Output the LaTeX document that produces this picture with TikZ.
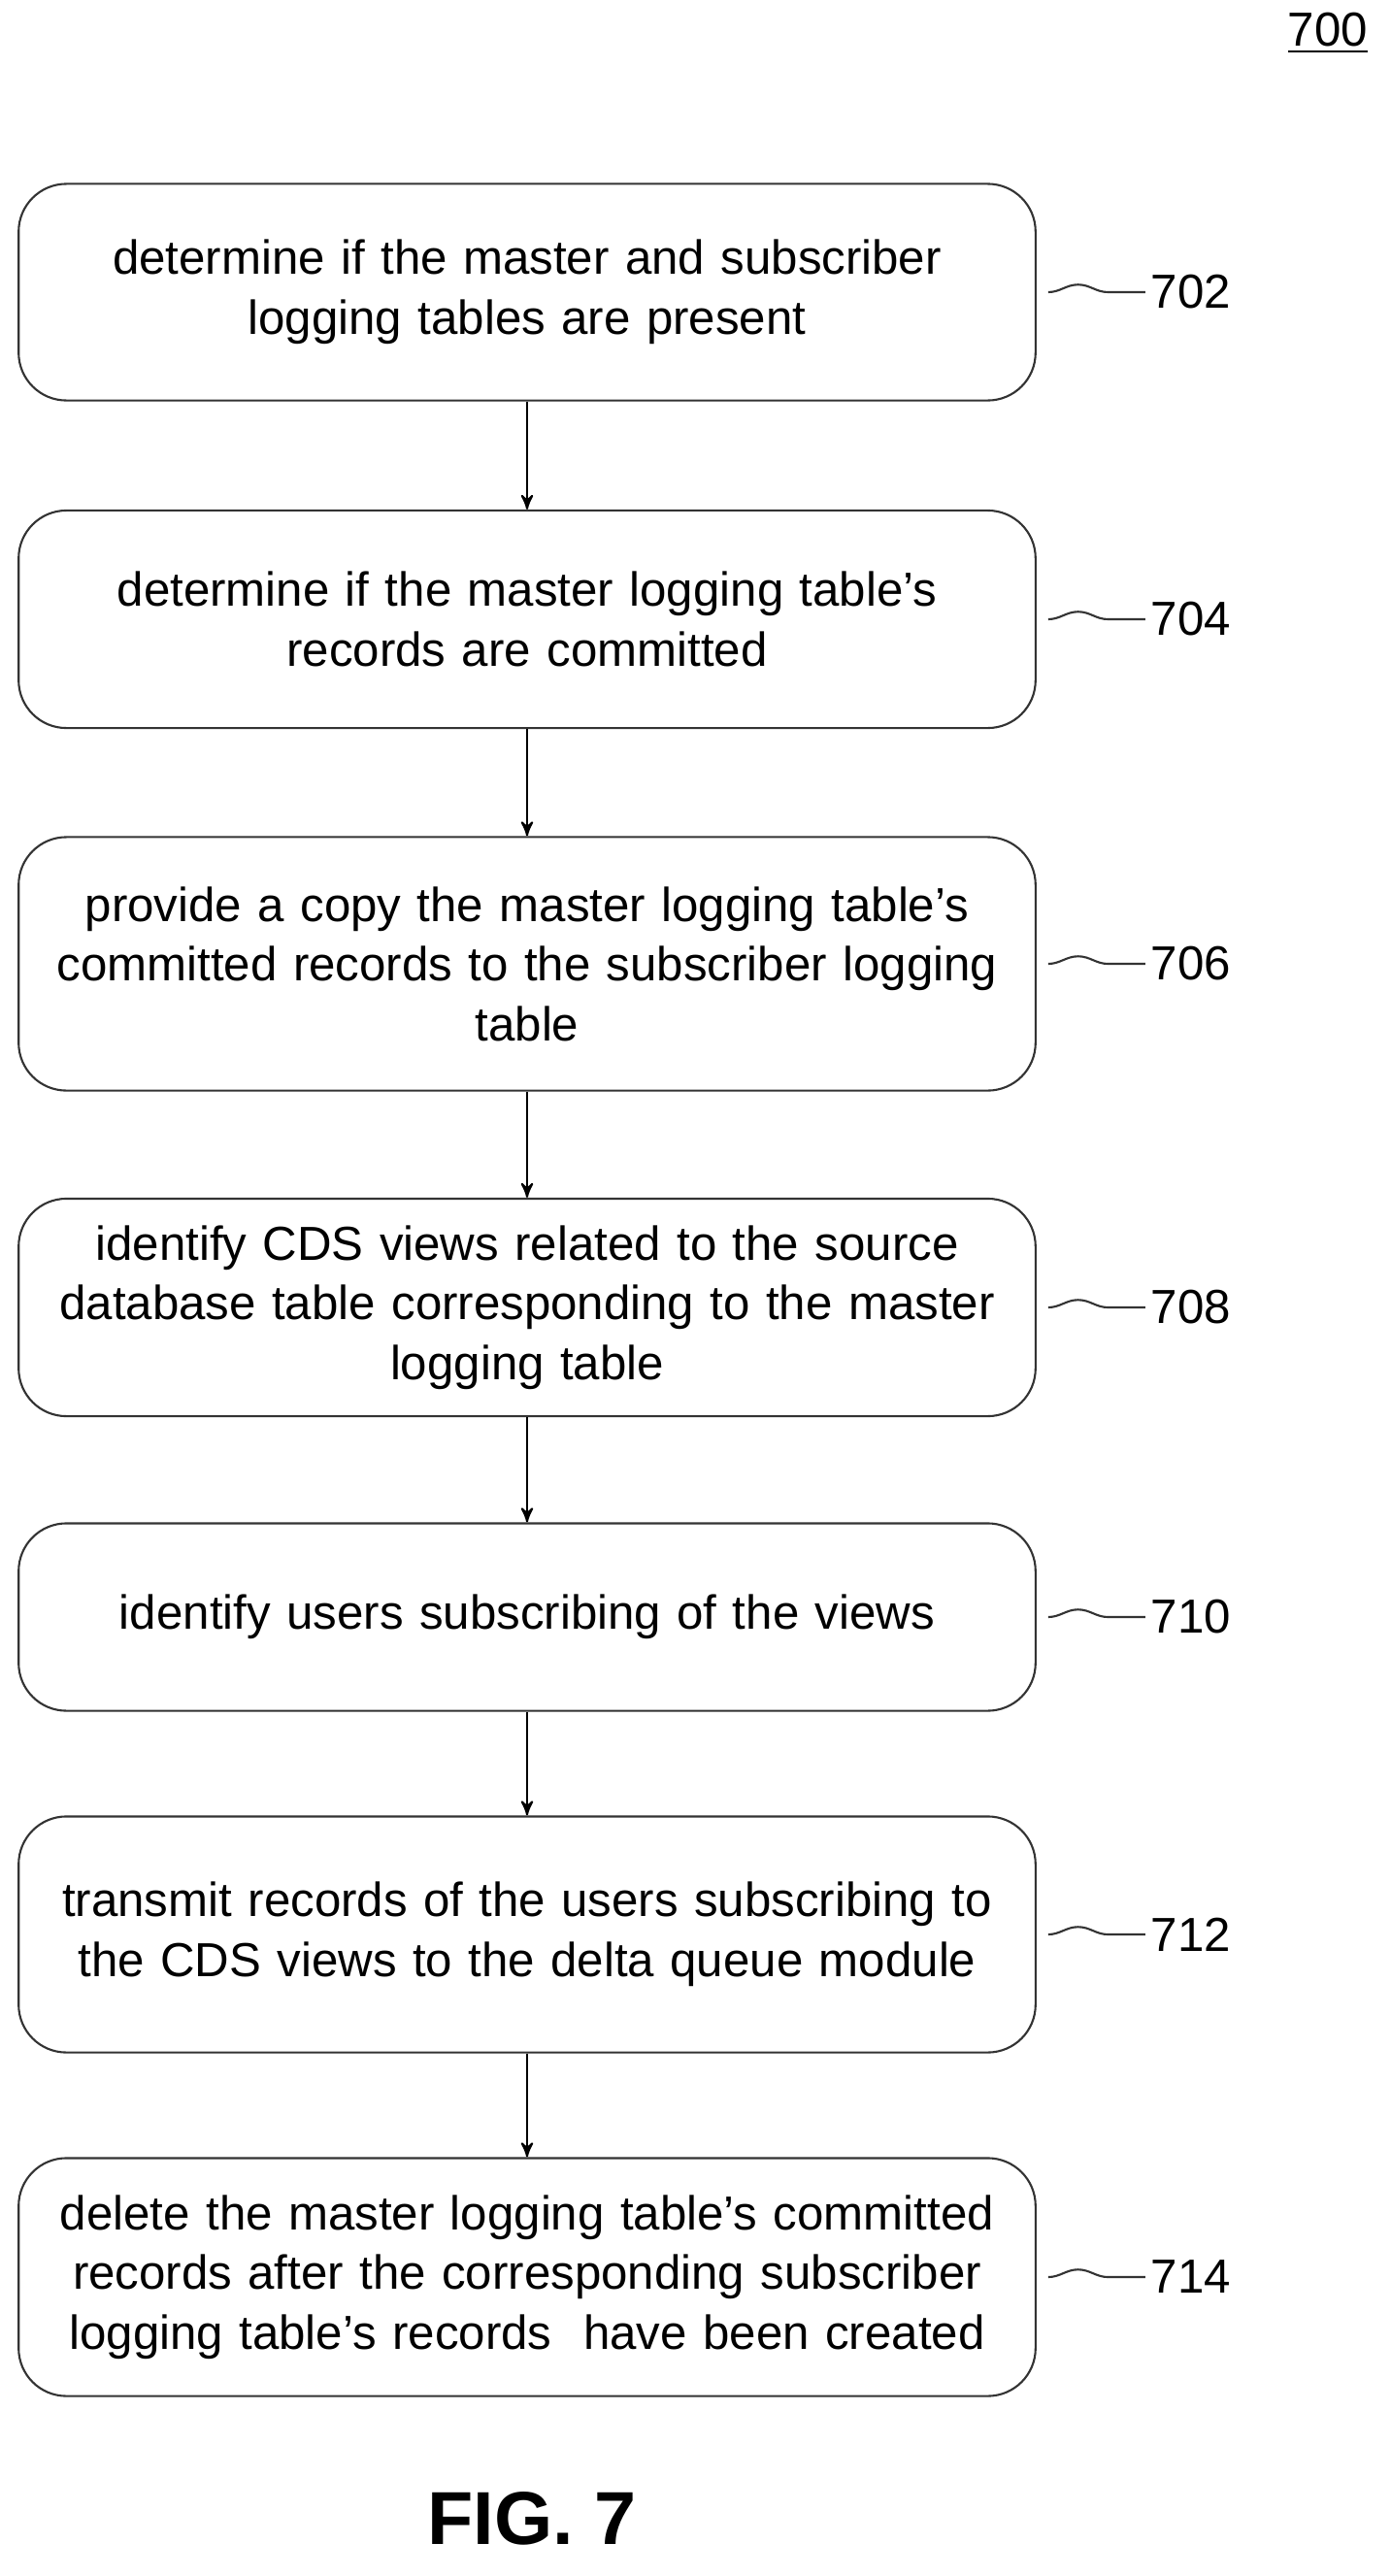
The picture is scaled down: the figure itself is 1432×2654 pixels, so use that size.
\documentclass[tikz,border=0pt]{standalone}
\usepackage{fontspec}
\setmainfont{Liberation Sans}
\usetikzlibrary{arrows,positioning,decorations.pathmorphing}

\begin{document}
\begin{tikzpicture}[x=0.01cm,y=-0.01cm,>=stealth',semithick,
                    font=\fontsize{14}{17.5}\selectfont]
  \tikzset{stepbox/.style={draw=black!80,rounded corners=14pt,minimum width=10.47cm,
                        text width=10cm,align=center,inner sep=0pt},
           tag/.style={anchor=west,inner sep=0pt},
           squig/.style={draw=black!80,decorate,decoration={snake,amplitude=2.2pt,segment length=28pt}}}
  \useasboundingbox (0,0) rectangle (1432,2654);

  \node at (1368,34) {\underline{700}};

  \node[stepbox,minimum height=2.23cm] (s702) at (543,301) {determine if the master and subscriber\\logging tables are present};
  \node[stepbox,minimum height=2.24cm] (s704) at (543,638) {determine if the master logging table's\\records are committed};
  \node[stepbox,minimum height=2.61cm] (s706) at (543,993) {provide a copy the master logging table's\\committed records to the subscriber logging\\table};
  \node[stepbox,minimum height=2.24cm] (s708) at (543,1347) {identify CDS views related to the source\\database table corresponding to the master\\logging table};
  \node[stepbox,minimum height=1.93cm] (s710) at (543,1666) {identify users subscribing of the views};
  \node[stepbox,minimum height=2.43cm] (s712) at (543,1993) {transmit records of the users subscribing to\\the CDS views to the delta queue module};
  \node[stepbox,minimum height=2.45cm] (s714) at (543,2346) {delete the master logging table's committed\\records after the corresponding subscriber\\logging table's records\ \ have been created};

  % step labels with wavy leaders
  \foreach \s/\n in {s702/702,s704/704,s706/706,s708/708,s710/710,s712/712,s714/714}{
    \node[tag] (t\n) at ([xshift=1.17cm]\s.east) {\n};
    \path[squig] ([xshift=0.12cm]\s.east) -- ([xshift=-0.05cm]t\n.west);
  }

  \foreach \a/\b in {s702/s704,s704/s706,s706/s708,s708/s710,s710/s712,s712/s714}
    \draw[->] (\a) -- (\b);

  \node[font=\fontsize{22}{26}\selectfont\bfseries] (fig) at (548,2595) {FIG. 7};
\end{tikzpicture}
\end{document}
